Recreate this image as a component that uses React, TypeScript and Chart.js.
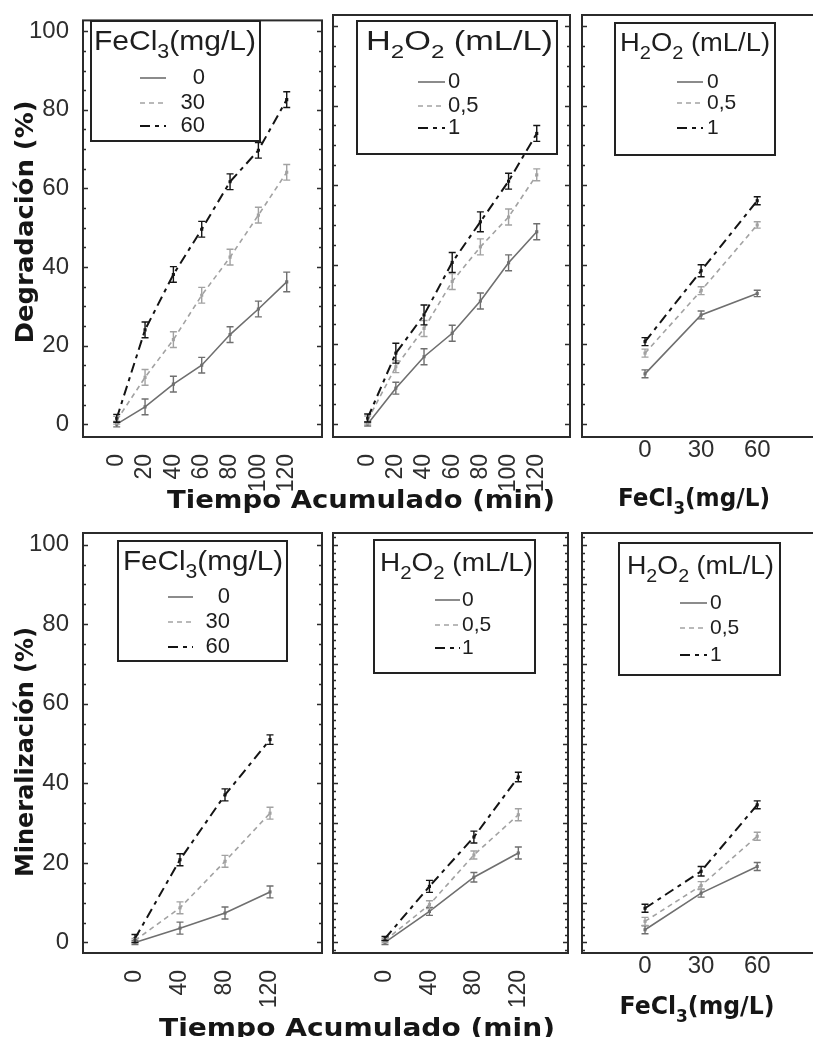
import React, { useEffect, useRef } from "react";
import { Chart, registerables } from "chart.js";

Chart.register(...registerables);

// ---------- DATA ----------
const TIME_FULL = [0, 20, 40, 60, 80, 100, 120];
const TIME_SHORT = [0, 40, 80, 120];
const FECL3_DOSES = [0, 30, 60];
const Y_TICKS = [0, 20, 40, 60, 80, 100];

const FECL3_LEGEND = ["0", "30", "60"];
const H2O2_LEGEND = ["0", "0,5", "1"];

// Degradación (%) vs tiempo, por dosis de FeCl3
const DEG_FE_0 = [0, 4.4, 10.2, 15, 22.8, 29.3, 36.2];
const DEG_FE_30 = [1, 11.9, 21.5, 32.8, 42.5, 53.2, 64.1];
const DEG_FE_60 = [1.5, 24, 38.1, 49.6, 61.7, 69.7, 82.6];
const DEG_FE_0_ERR = [0.7, 2, 2, 2, 2, 2, 2.5];
const DEG_FE_30_ERR = [1, 2, 2, 2, 2, 2, 2];
const DEG_FE_60_ERR = [1, 2, 2, 2, 2, 2, 2];

// Degradación (%) vs tiempo, por dosis de H2O2
const DEG_H2_0 = [0, 9, 16.9, 22.8, 30.9, 40.5, 48.3];
const DEG_H2_05 = [1, 14.4, 24, 35.8, 44.5, 52, 62.6];
const DEG_H2_1 = [1.5, 17.8, 27.4, 40.6, 50.8, 61, 73];
const DEG_H2_0_ERR = [0.5, 1.5, 2, 2, 2, 2, 2];
const DEG_H2_05_ERR = [1, 1.5, 2, 2, 2, 2, 1.5];
const DEG_H2_1_ERR = [1, 2.5, 2.5, 2.5, 2.5, 2, 2];

// Degradación (%) vs FeCl3, por dosis de H2O2
const DEG_FX_0 = [12.6, 27.4, 32.8];
const DEG_FX_05 = [17.8, 33.5, 50];
const DEG_FX_1 = [20.7, 38.5, 56.1];
const DEG_FX_0_ERR = [1, 1, 0.8];
const DEG_FX_05_ERR = [1, 1, 0.8];
const DEG_FX_1_ERR = [1, 1.5, 1];

// Mineralización (%) vs tiempo, por dosis de FeCl3
const MIN_FE_0 = [0, 3.6, 7.4, 12.7];
const MIN_FE_30 = [0.5, 8.7, 20.4, 32.5];
const MIN_FE_60 = [1, 20.8, 37.1, 51];
const MIN_FE_0_ERR = [0.5, 1.5, 1.5, 1.5];
const MIN_FE_30_ERR = [0.5, 1.5, 1.5, 1.5];
const MIN_FE_60_ERR = [1, 1.5, 1.5, 1.2];

// Mineralización (%) vs tiempo, por dosis de H2O2
const MIN_H2_0 = [0, 7.8, 16.4, 22.5];
const MIN_H2_05 = [0.5, 9.5, 22, 32.1];
const MIN_H2_1 = [1, 14.1, 26.5, 41.6];
const MIN_H2_0_ERR = [0.5, 1, 1.2, 1.5];
const MIN_H2_05_ERR = [0.5, 1, 1, 1.5];
const MIN_H2_1_ERR = [0.5, 1.5, 1.5, 1.2];

// Mineralización (%) vs FeCl3, por dosis de H2O2
const MIN_FX_0 = [3.2, 12.4, 19.1];
const MIN_FX_05 = [5.3, 14.3, 26.7];
const MIN_FX_1 = [8.6, 17.9, 34.6];
const MIN_FX_0_ERR = [1, 1, 1];
const MIN_FX_05_ERR = [1, 1, 1];
const MIN_FX_1_ERR = [1, 1.2, 1];

// ---------- TEXT ----------
type Part = { t: string; sub?: boolean };
const FE_TITLE: Part[] = [{ t: "FeCl" }, { t: "3", sub: true }, { t: "(mg/L)" }];
const H2O2_TITLE: Part[] = [{ t: "H" }, { t: "2", sub: true }, { t: "O" }, { t: "2", sub: true }, { t: " (mL/L)" }];
const DEG_TITLE: Part[] = [{ t: "Degradación (%)" }];
const MIN_TITLE: Part[] = [{ t: "Mineralización (%)" }];
const TIME_TITLE: Part[] = [{ t: "Tiempo Acumulado (min)" }];

// ---------- STYLE / LAYOUT ----------
const CW = 840;
const CH = 1037;
const YW = 60;
const XH = 60;
const TICK_FONT = "Liberation Sans";
const LEG_FONT = "Liberation Sans";
const TITLE_FONT = "DejaVu Sans";

const STYLES = [
  { color: "#6f6f6f", dash: [] as number[], width: 1.6 },
  { color: "#a2a2a2", dash: [5, 4], width: 1.6 },
  { color: "#141414", dash: [10, 5, 4, 5], width: 2 },
];

type Legend = {
  box: number[];
  title: Part[];
  titleX: number;
  titleY: number;
  titleW: number;
  titleSize: number;
  labels: string[];
  ys: number[];
  line: number[];
  textX: number;
  align: "left" | "right";
  size: number;
};

type TitleCfg = {
  parts: Part[];
  x: number;
  y: number;
  w: number;
  size: number;
  rotate?: boolean;
};

type PanelCfg = {
  box: number[];
  xMin: number;
  xMax: number;
  yMin: number;
  yMax: number;
  xs: number[];
  rotate: boolean;
  yLabels: boolean;
  minor: number;
  major: number;
  series: number[][];
  errors: number[][];
  legend: Legend;
  titles: TitleCfg[];
};

const TOP_Y = { yMin: -3.27, yMax: 102.76 };
const BOT_Y = { yMin: -2.65, yMax: 102.94 };

const PANELS: PanelCfg[] = [
  {
    box: [83, 15, 322, 437], xMin: -23.8, xMax: 144.9, ...TOP_Y, xs: TIME_FULL, rotate: true, yLabels: true,
    minor: 5, major: 20,
    series: [DEG_FE_0, DEG_FE_30, DEG_FE_60], errors: [DEG_FE_0_ERR, DEG_FE_30_ERR, DEG_FE_60_ERR],
    legend: { box: [91, 21, 260, 141], title: FE_TITLE, titleX: 94, titleY: 50, titleW: 162, titleSize: 28,
      labels: FECL3_LEGEND, ys: [78, 103, 126], line: [140, 166], textX: 205, align: "right", size: 22 },
    titles: [
      { parts: DEG_TITLE, x: 33, y: 222, w: 243, size: 25, rotate: true },
      { parts: TIME_TITLE, x: 361, y: 508, w: 388, size: 25 },
    ],
  },
  {
    box: [333, 15, 570, 437], xMin: -24.6, xMax: 143.6, ...TOP_Y, xs: TIME_FULL, rotate: true, yLabels: false,
    minor: 5, major: 20,
    series: [DEG_H2_0, DEG_H2_05, DEG_H2_1], errors: [DEG_H2_0_ERR, DEG_H2_05_ERR, DEG_H2_1_ERR],
    legend: { box: [357, 21, 557, 154], title: H2O2_TITLE, titleX: 366, titleY: 50, titleW: 187, titleSize: 27,
      labels: H2O2_LEGEND, ys: [82, 106, 128], line: [418, 445], textX: 448, align: "left", size: 22 },
    titles: [],
  },
  {
    box: [582, 15, 818, 437], xMin: -33.7, xMax: 92.5, ...TOP_Y, xs: FECL3_DOSES, rotate: false, yLabels: false,
    minor: 5, major: 20,
    series: [DEG_FX_0, DEG_FX_05, DEG_FX_1], errors: [DEG_FX_0_ERR, DEG_FX_05_ERR, DEG_FX_1_ERR],
    legend: { box: [615, 23, 775, 155], title: H2O2_TITLE, titleX: 620, titleY: 51, titleW: 150, titleSize: 26,
      labels: H2O2_LEGEND, ys: [82, 103, 128], line: [677, 703], textX: 707, align: "left", size: 21 },
    titles: [{ parts: FE_TITLE, x: 694, y: 506, w: 152, size: 25 }],
  },
  {
    box: [83, 533, 322, 953], xMin: -46.2, xMax: 166.2, ...BOT_Y, xs: TIME_SHORT, rotate: true, yLabels: true,
    minor: 5, major: 20,
    series: [MIN_FE_0, MIN_FE_30, MIN_FE_60], errors: [MIN_FE_0_ERR, MIN_FE_30_ERR, MIN_FE_60_ERR],
    legend: { box: [118, 541, 287, 661], title: FE_TITLE, titleX: 123, titleY: 570, titleW: 160, titleSize: 28,
      labels: FECL3_LEGEND, ys: [597, 622, 647], line: [168, 193], textX: 230, align: "right", size: 22 },
    titles: [
      { parts: MIN_TITLE, x: 33, y: 752, w: 250, size: 25, rotate: true },
      { parts: TIME_TITLE, x: 357, y: 1036, w: 396, size: 25 },
    ],
  },
  {
    box: [333, 533, 568, 953], xMin: -46.8, xMax: 164.7, ...BOT_Y, xs: TIME_SHORT, rotate: true, yLabels: false,
    minor: 2, major: 10,
    series: [MIN_H2_0, MIN_H2_05, MIN_H2_1], errors: [MIN_H2_0_ERR, MIN_H2_05_ERR, MIN_H2_1_ERR],
    legend: { box: [374, 540, 535, 673], title: H2O2_TITLE, titleX: 380, titleY: 571, titleW: 153, titleSize: 26,
      labels: H2O2_LEGEND, ys: [600, 625, 648], line: [435, 460], textX: 462, align: "left", size: 21 },
    titles: [],
  },
  {
    box: [582, 533, 818, 953], xMin: -33.7, xMax: 92.5, ...BOT_Y, xs: FECL3_DOSES, rotate: false, yLabels: false,
    minor: 2, major: 10,
    series: [MIN_FX_0, MIN_FX_05, MIN_FX_1], errors: [MIN_FX_0_ERR, MIN_FX_05_ERR, MIN_FX_1_ERR],
    legend: { box: [619, 543, 780, 675], title: H2O2_TITLE, titleX: 627, titleY: 574, titleW: 147, titleSize: 26,
      labels: H2O2_LEGEND, ys: [603, 628, 655], line: [680, 707], textX: 710, align: "left", size: 21 },
    titles: [{ parts: FE_TITLE, x: 697, y: 1014, w: 155, size: 25 }],
  },
];

// ---------- DRAW HELPERS ----------
function partFont(p: Part, size: number, weight: string, family: string) {
  const s = p.sub ? Math.round(size * 0.72) : size;
  return `${weight} ${s}px "${family}"`;
}

function richWidth(ctx: CanvasRenderingContext2D, parts: Part[], size: number, weight: string, family: string) {
  let w = 0;
  for (const p of parts) {
    ctx.font = partFont(p, size, weight, family);
    w += ctx.measureText(p.t).width;
  }
  return w;
}

function drawRich(
  ctx: CanvasRenderingContext2D,
  parts: Part[],
  o: { x: number; y: number; size: number; weight: string; family: string; align: "left" | "center"; w?: number; rotate?: boolean; color: string }
) {
  ctx.save();
  ctx.translate(o.x, o.y);
  if (o.rotate) ctx.rotate(-Math.PI / 2);
  const natural = richWidth(ctx, parts, o.size, o.weight, o.family);
  const sx = o.w ? o.w / natural : 1;
  ctx.scale(sx, 1);
  let cx = o.align === "center" ? -natural / 2 : 0;
  ctx.textAlign = "left";
  ctx.textBaseline = "alphabetic";
  ctx.fillStyle = o.color;
  for (const p of parts) {
    ctx.font = partFont(p, o.size, o.weight, o.family);
    ctx.fillText(p.t, cx, p.sub ? o.size * 0.3 : 0);
    cx += ctx.measureText(p.t).width;
  }
  ctx.restore();
}

function makePlugin(cfg: PanelCfg) {
  return {
    id: "annot",
    afterDatasetsDraw(chart: any) {
      const ctx: CanvasRenderingContext2D = chart.ctx;
      const xs = chart.scales.x;
      const ys = chart.scales.y;
      ctx.save();
      cfg.series.forEach((vals, i) => {
        const st = STYLES[i];
        ctx.strokeStyle = st.color;
        ctx.lineWidth = 1.4;
        ctx.setLineDash([]);
        vals.forEach((v, j) => {
          const e = cfg.errors[i][j];
          const px = xs.getPixelForValue(cfg.xs[j]);
          const y1 = ys.getPixelForValue(v + e);
          const y2 = ys.getPixelForValue(v - e);
          ctx.beginPath();
          ctx.moveTo(px, y1);
          ctx.lineTo(px, y2);
          ctx.moveTo(px - 3.5, y1);
          ctx.lineTo(px + 3.5, y1);
          ctx.moveTo(px - 3.5, y2);
          ctx.lineTo(px + 3.5, y2);
          ctx.stroke();
        });
      });
      ctx.restore();
    },
    afterDraw(chart: any) {
      const ctx: CanvasRenderingContext2D = chart.ctx;
      const a = chart.chartArea;
      const ys = chart.scales.y;
      ctx.save();
      // frame
      ctx.strokeStyle = "#2b2b2b";
      ctx.lineWidth = 2;
      ctx.setLineDash([]);
      ctx.strokeRect(a.left, a.top, a.right - a.left, a.bottom - a.top);
      // inward tick marks
      ctx.lineWidth = 1.5;
      const start = Math.ceil(ys.min / cfg.minor) * cfg.minor;
      for (let v = start; v <= ys.max + 1e-9; v += cfg.minor) {
        const isMajor = Math.abs(v % cfg.major) < 1e-6;
        const len = isMajor ? 5 : 3;
        const py = Math.round(ys.getPixelForValue(v)) + 0.5;
        ctx.beginPath();
        ctx.moveTo(a.left, py);
        ctx.lineTo(a.left + len, py);
        ctx.moveTo(a.right, py);
        ctx.lineTo(a.right - len, py);
        ctx.stroke();
      }
      // legend (transparent box, as in the original)
      const L = cfg.legend;
      ctx.strokeStyle = "#222";
      ctx.lineWidth = 2;
      ctx.strokeRect(L.box[0], L.box[1], L.box[2] - L.box[0], L.box[3] - L.box[1]);
      drawRich(ctx, L.title, { x: L.titleX, y: L.titleY, size: L.titleSize, weight: "normal", family: LEG_FONT, align: "left", w: L.titleW, color: "#1e1e1e" });
      L.labels.forEach((lab, i) => {
        const st = STYLES[i];
        ctx.strokeStyle = st.color;
        ctx.lineWidth = st.width;
        ctx.setLineDash(st.dash);
        ctx.beginPath();
        ctx.moveTo(L.line[0], L.ys[i]);
        ctx.lineTo(L.line[1], L.ys[i]);
        ctx.stroke();
        ctx.setLineDash([]);
        ctx.font = `${L.size}px "${LEG_FONT}"`;
        ctx.fillStyle = "#1e1e1e";
        ctx.textAlign = L.align;
        ctx.textBaseline = "middle";
        ctx.fillText(lab, L.textX, L.ys[i]);
      });
      // axis titles
      cfg.titles.forEach((t) => {
        drawRich(ctx, t.parts, { x: t.x, y: t.y, size: t.size, weight: "bold", family: TITLE_FONT, align: "center", w: t.w, rotate: t.rotate, color: "#161616" });
      });
      ctx.restore();
    },
  };
}

function buildConfig(cfg: PanelCfg): any {
  const [bl, bt, br, bb] = cfg.box;
  const datasets = cfg.series.map((vals, i) => ({
    label: cfg.legend.labels[i],
    data: cfg.xs.map((x, j) => ({ x, y: vals[j] })),
    borderColor: STYLES[i].color,
    borderDash: STYLES[i].dash,
    borderWidth: STYLES[i].width,
    pointStyle: "rect",
    pointRadius: 2.2,
    pointBorderWidth: 0,
    pointBackgroundColor: STYLES[i].color,
    tension: 0,
    fill: false,
    order: 2 - i,
  }));
  return {
    type: "line",
    data: { datasets },
    plugins: [makePlugin(cfg)],
    options: {
      animation: false,
      responsive: false,
      devicePixelRatio: 1,
      events: [],
      layout: {
        autoPadding: false,
        padding: { left: bl - YW, top: bt, right: CW - br, bottom: CH - bb - XH },
      },
      plugins: { legend: { display: false }, tooltip: { enabled: false } },
      scales: {
        x: {
          type: "linear",
          min: cfg.xMin,
          max: cfg.xMax,
          afterFit: (s: any) => { s.height = XH; },
          afterBuildTicks: (s: any) => { s.ticks = cfg.xs.map((v) => ({ value: v })); },
          grid: { display: false },
          border: { display: false },
          ticks: {
            autoSkip: false,
            minRotation: cfg.rotate ? 90 : 0,
            maxRotation: cfg.rotate ? 90 : 0,
            padding: cfg.rotate ? 9 : -9,
            color: "#2e2e2e",
            font: { family: TICK_FONT, size: cfg.rotate ? 23 : 24 },
            callback: (v: any) => String(v),
          },
        },
        y: {
          type: "linear",
          min: cfg.yMin,
          max: cfg.yMax,
          afterFit: (s: any) => { s.width = YW; },
          afterBuildTicks: (s: any) => { s.ticks = Y_TICKS.map((v) => ({ value: v })); },
          grid: { display: false },
          border: { display: false },
          ticks: {
            display: cfg.yLabels,
            autoSkip: false,
            padding: 6,
            color: "#2e2e2e",
            font: { family: TICK_FONT, size: 24 },
            callback: (v: any) => String(v),
          },
        },
      },
    },
  };
}

function Panel({ cfg }: { cfg: PanelCfg }) {
  const ref = useRef<HTMLCanvasElement>(null);
  useEffect(() => {
    const chart = new Chart(ref.current as HTMLCanvasElement, buildConfig(cfg));
    return () => chart.destroy();
  }, [cfg]);
  return (
    <canvas
      ref={ref}
      width={CW}
      height={CH}
      style={{ position: "absolute", left: 0, top: 0, width: CW, height: CH }}
    />
  );
}

export default function App() {
  return (
    <div
      style={{
        position: "fixed",
        left: 0,
        top: 0,
        width: 813,
        height: 1037,
        overflow: "hidden",
        background: "#ffffff",
      }}
    >
      {PANELS.map((p, i) => (
        <Panel key={i} cfg={p} />
      ))}
    </div>
  );
}
